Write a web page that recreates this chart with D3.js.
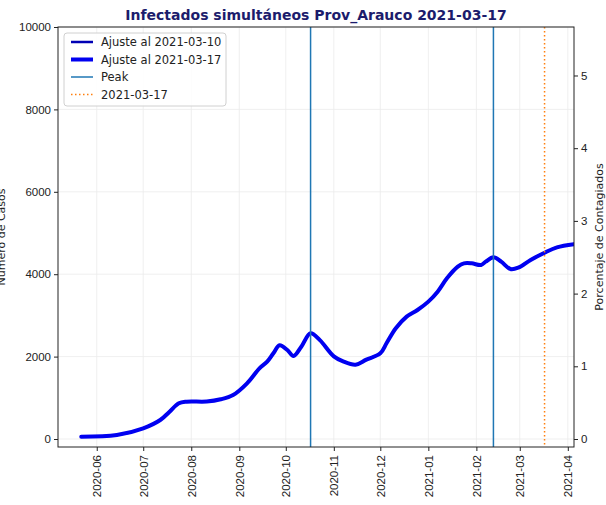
<!DOCTYPE html>
<html>
<head>
<meta charset="utf-8">
<script src="https://cdn.jsdelivr.net/npm/d3@7"></script>
<style>
  body { margin: 0; background: #fff; }
  svg { font-family: "DejaVu Sans", sans-serif; }
  .axis text { font-size: 11.5px; fill: #222; }
  .axis path, .axis line { stroke: #222; }
</style>
</head>
<body>
<div id="chart"></div>
<script>
// fechas y casos (ajuste al 2021-03-17)
var fechas = ["2020-05-22","2020-06-14","2020-07-01","2020-07-12","2020-07-18","2020-07-24",
  "2020-07-29","2020-08-11","2020-08-20","2020-08-28","2020-09-06","2020-09-14","2020-09-19",
  "2020-09-23","2020-09-27","2020-10-02","2020-10-06","2020-10-11","2020-10-17","2020-10-23",
  "2020-11-01","2020-11-07","2020-11-15","2020-11-22","2020-12-01","2020-12-05","2020-12-11",
  "2020-12-18","2020-12-25","2021-01-01","2021-01-07","2021-01-13","2021-01-20","2021-01-24",
  "2021-01-29","2021-02-04","2021-02-07","2021-02-12","2021-02-17","2021-02-23","2021-02-28",
  "2021-03-08","2021-03-17","2021-03-25","2021-04-05"];
var casos = [56, 97, 259, 461, 663, 866,
  906, 910, 964, 1068, 1352, 1716, 1876,
  2080, 2274, 2160, 2015, 2240, 2566, 2400,
  2007, 1885, 1804, 1926, 2080, 2323, 2687,
  2970, 3131, 3334, 3576, 3900, 4183, 4264,
  4264, 4223, 4304, 4410, 4304, 4126, 4158,
  4345, 4522, 4653, 4730];
// el ajuste anterior coincide con el actual en la figura
var casosAnterior = casos.slice();

var peaks = ["2020-10-17", "2021-02-12"];
var fechaActual = "2021-03-17";
var poblacion = 176460;

var yTicks = [0, 2000, 4000, 6000, 8000, 10000];
var pctTicks = [0, 1, 2, 3, 4, 5];
var xDomain = ["2020-05-07", "2021-04-05"];
var yDomain = [-194, 10000];

var titulo = "Infectados simultáneos Prov_Arauco 2021-03-17";
var legendLabels = ["Ajuste al 2021-03-10", "Ajuste al 2021-03-17", "Peak", "2021-03-17"];

var parse = d3.utcParse("%Y-%m-%d");
var width = 606, height = 505;
var margin = { top: 27, right: 32, bottom: 58, left: 58 };
var w = width - margin.left - margin.right,
    h = height - margin.top - margin.bottom;

var svg = d3.select("#chart").append("svg")
    .attr("width", width)
    .attr("height", height);

var g = svg.append("g")
    .attr("transform", "translate(" + margin.left + "," + margin.top + ")");

var x = d3.scaleUtc().domain(xDomain.map(parse)).range([0, w]);
var y = d3.scaleLinear().domain(yDomain).range([h, 0]);
var yPct = d3.scaleLinear()
    .domain(yDomain.map(function(d) { return d / poblacion * 100; }))
    .range([h, 0]);

var meses = d3.utcMonth.range(parse("2020-06-01"), parse("2021-04-02"));

// grilla
g.append("g").selectAll("line").data(meses).enter().append("line")
    .attr("x1", function(d) { return x(d); })
    .attr("x2", function(d) { return x(d); })
    .attr("y1", 0).attr("y2", h)
    .attr("stroke", "#ebebeb").attr("stroke-width", 0.8);
g.append("g").selectAll("line").data(yTicks).enter().append("line")
    .attr("x1", 0).attr("x2", w)
    .attr("y1", function(d) { return y(d); })
    .attr("y2", function(d) { return y(d); })
    .attr("stroke", "#ebebeb").attr("stroke-width", 0.8);

var serie = fechas.map(function(f, i) { return { date: parse(f), v: casos[i] }; });
var serieAnt = fechas.map(function(f, i) { return { date: parse(f), v: casosAnterior[i] }; });

var line = d3.line()
    .curve(d3.curveCatmullRom)
    .x(function(d) { return x(d.date); })
    .y(function(d) { return y(d.v); });

g.append("clipPath").attr("id", "clip")
    .append("rect").attr("width", w).attr("height", h);

var plot = g.append("g").attr("clip-path", "url(#clip)");

plot.append("path").datum(serieAnt)
    .attr("d", line).attr("fill", "none")
    .attr("stroke", "#0000b4").attr("stroke-width", 2.5);

plot.append("path").datum(serie)
    .attr("d", line).attr("fill", "none")
    .attr("stroke", "#0000f0").attr("stroke-width", 4)
    .attr("stroke-linecap", "round");

plot.selectAll(".peak").data(peaks).enter().append("line")
    .attr("class", "peak")
    .attr("x1", function(d) { return x(parse(d)); })
    .attr("x2", function(d) { return x(parse(d)); })
    .attr("y1", 0).attr("y2", h)
    .attr("stroke", "#1f77b4").attr("stroke-width", 1.5);

plot.append("line")
    .attr("x1", x(parse(fechaActual))).attr("x2", x(parse(fechaActual)))
    .attr("y1", 0).attr("y2", h)
    .attr("stroke", "#ff7f0e").attr("stroke-width", 1.5)
    .attr("stroke-dasharray", "1.5,2.5");

// ejes
var xAxis = g.append("g")
    .attr("class", "axis")
    .attr("transform", "translate(0," + h + ")")
    .call(d3.axisBottom(x).tickValues(meses).tickFormat(d3.utcFormat("%Y-%m")).tickSize(4).tickSizeOuter(0));
xAxis.selectAll("text")
    .attr("transform", "rotate(-90)")
    .attr("x", -8).attr("y", 0).attr("dy", "0.35em")
    .style("text-anchor", "end");

g.append("g")
    .attr("class", "axis")
    .call(d3.axisLeft(y).tickValues(yTicks).tickFormat(d3.format("d")).tickSize(4).tickSizeOuter(0));

g.append("g")
    .attr("class", "axis")
    .attr("transform", "translate(" + w + ",0)")
    .call(d3.axisRight(yPct).tickValues(pctTicks).tickFormat(d3.format("d")).tickSize(4).tickSizeOuter(0));

g.selectAll(".axis path.domain").remove();

g.append("rect")
    .attr("width", w).attr("height", h)
    .attr("fill", "none").attr("stroke", "#222").attr("stroke-width", 1);

// titulos
svg.append("text")
    .attr("x", margin.left + w / 2).attr("y", 20)
    .attr("text-anchor", "middle")
    .style("font-size", "14px").style("font-weight", "bold")
    .style("fill", "#1c1c6c")
    .text(titulo);

svg.append("text")
    .attr("transform", "translate(5," + (margin.top + h / 2) + ") rotate(-90)")
    .attr("text-anchor", "middle")
    .style("font-size", "11px").style("fill", "#222")
    .text("Número de Casos");

svg.append("text")
    .attr("transform", "translate(603," + (margin.top + h / 2) + ") rotate(-90)")
    .attr("text-anchor", "middle")
    .style("font-size", "11px").style("fill", "#222")
    .text("Porcentaje de Contagiados");

// leyenda
var legend = g.append("g").attr("transform", "translate(6,6)");
legend.append("rect")
    .attr("width", 162).attr("height", 73)
    .attr("rx", 3)
    .attr("fill", "#fff").attr("fill-opacity", 0.85)
    .attr("stroke", "#d0d0d0");

var estilos = [
    { color: "#0000b4", width: 2.5, dash: null },
    { color: "#0000f0", width: 4, dash: null },
    { color: "#1f77b4", width: 1.5, dash: null },
    { color: "#ff7f0e", width: 1.5, dash: "1.5,2.5" }
];

legendLabels.forEach(function(lbl, i) {
    var ly = 9 + i * 17.5;
    legend.append("line")
        .attr("x1", 7).attr("x2", 29)
        .attr("y1", ly).attr("y2", ly)
        .attr("stroke", estilos[i].color)
        .attr("stroke-width", estilos[i].width)
        .attr("stroke-dasharray", estilos[i].dash);
    legend.append("text")
        .attr("x", 37).attr("y", ly).attr("dy", "0.35em")
        .style("font-size", "11.5px").style("fill", "#222")
        .text(lbl);
});
</script>
</body>
</html>
